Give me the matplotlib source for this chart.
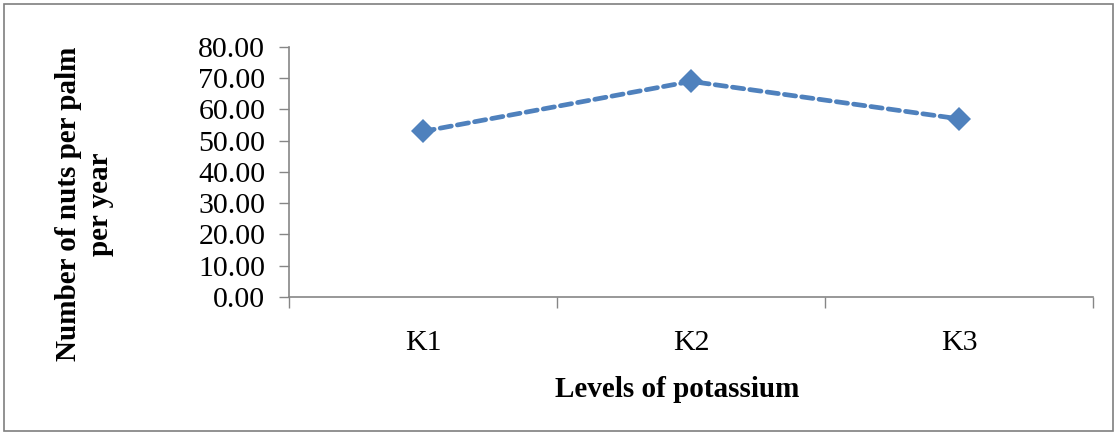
import matplotlib.pyplot as plt
from matplotlib.patches import Rectangle

levels = ['K1', 'K2', 'K3']
nuts = [53.0, 69.0, 57.0]
y_ticks = [0, 10, 20, 30, 40, 50, 60, 70, 80]

plt.rcParams['font.family'] = ['Liberation Serif', 'DejaVu Serif']

fig = plt.figure(figsize=(11.17, 4.34), dpi=100)
ax = fig.add_axes([0.2587, 0.3157, 0.72, 0.576])

x = list(range(len(levels)))
ax.plot(x, nuts, color='#4F81BD', linestyle=(0, (2.4, 1.3)), linewidth=3.4,
        marker='D', markersize=12, markeredgewidth=0, dash_capstyle='round')

ax.set_xlim(-0.5, len(levels) - 0.5)
ax.set_ylim(0, 80)
ax.set_yticks(y_ticks)
ax.set_yticklabels(['%.2f' % v for v in y_ticks], fontsize=21.5)
ax.set_xticks(x)
ax.set_xticklabels(levels, fontsize=21.5)
ax.set_xticks([i - 0.5 for i in range(len(levels) + 1)], minor=True)
ax.tick_params(axis='x', which='major', length=0, pad=24)
ax.tick_params(axis='x', which='minor', length=8, color='#868686', width=1)
ax.tick_params(axis='y', length=7, color='#868686', width=1, pad=10)

for s in ['top', 'right']:
    ax.spines[s].set_visible(False)
for s in ['left', 'bottom']:
    ax.spines[s].set_color('#868686')
    ax.spines[s].set_linewidth(1.2)

ax.set_xlabel('Levels of potassium', fontsize=21, fontweight='bold', va='center')
ax.xaxis.set_label_coords(0.483, -0.372)
ax.set_ylabel('Number of nuts per palm\nper year', fontsize=21, fontweight='bold',
              linespacing=1.25, va='center')
ax.yaxis.set_label_coords(-0.254, 0.372)

fig.patches.append(Rectangle((0.004, 0.006), 0.992, 0.985, transform=fig.transFigure,
                             fill=False, edgecolor='#7f7f7f', linewidth=1.2))

fig.savefig('out.png', dpi=100)
